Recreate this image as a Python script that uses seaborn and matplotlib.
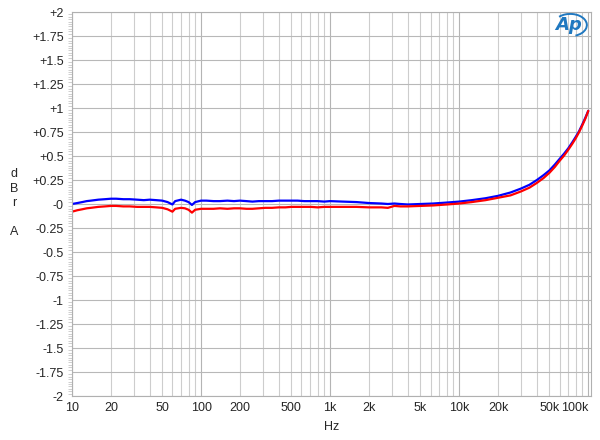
import numpy as np
import pandas as pd
import matplotlib
matplotlib.use("Agg")
import matplotlib.pyplot as plt
import seaborn as sns
from matplotlib.patches import Arc
from matplotlib.ticker import FixedLocator, NullFormatter, MultipleLocator

freq = [10, 11, 12, 13, 14, 16, 18, 20, 22, 25, 28, 32, 36, 40, 45, 50, 55, 60, 63, 70, 75, 80, 85, 90,
        100, 110, 125, 140, 160, 180, 200, 225, 250, 280, 315, 355, 400, 450, 500, 560, 630, 710, 800, 900,
        1000, 1250, 1600, 2000, 2500, 2800, 3150, 3500, 4000, 5000, 6300, 8000, 10000, 12500, 16000, 20000,
        25000, 30000, 35000, 40000, 45000, 50000, 55000, 60000, 65000, 70000, 75000, 80000, 85000, 90000,
        95000, 100000]

blue = [0.00, 0.01, 0.02, 0.03, 0.035, 0.045, 0.05, 0.055, 0.055, 0.05, 0.05, 0.045, 0.04, 0.045, 0.04,
        0.035, 0.02, -0.005, 0.03, 0.045, 0.035, 0.02, -0.01, 0.02,
        0.035, 0.035, 0.03, 0.03, 0.035, 0.03, 0.035, 0.03, 0.025, 0.03, 0.03, 0.03, 0.035, 0.035, 0.035,
        0.035, 0.03, 0.03, 0.03, 0.025,
        0.03, 0.025, 0.02, 0.01, 0.005, 0.0, 0.005, 0.0, -0.005, 0.0, 0.005, 0.015, 0.025, 0.04, 0.06, 0.085,
        0.12, 0.16, 0.20, 0.25, 0.30, 0.35, 0.41, 0.47, 0.525, 0.58, 0.64, 0.70, 0.76, 0.83,
        0.90, 0.97]

red = [-0.08, -0.065, -0.055, -0.045, -0.04, -0.03, -0.025, -0.02, -0.02, -0.025, -0.025, -0.03, -0.03,
       -0.03, -0.035, -0.04, -0.055, -0.08, -0.05, -0.04, -0.045, -0.06, -0.09, -0.06,
       -0.05, -0.05, -0.05, -0.045, -0.05, -0.045, -0.045, -0.05, -0.05, -0.045, -0.04, -0.04, -0.035,
       -0.035, -0.03, -0.03, -0.03, -0.03, -0.035, -0.03,
       -0.03, -0.03, -0.03, -0.035, -0.035, -0.04, -0.02, -0.025, -0.025, -0.02, -0.015, -0.005, 0.005,
       0.02, 0.04, 0.065,
       0.09, 0.13, 0.17, 0.22, 0.27, 0.325, 0.385, 0.45, 0.505, 0.565, 0.625, 0.685, 0.75, 0.82,
       0.89, 0.97]

x_ticks = [10, 20, 50, 100, 200, 500, 1000, 2000, 5000, 10000, 20000, 50000, 100000]
x_labels = ["10", "20", "50", "100", "200", "500", "1k", "2k", "5k", "10k", "20k", "50k", "100k"]
y_ticks = [2, 1.75, 1.5, 1.25, 1, 0.75, 0.5, 0.25, 0, -0.25, -0.5, -0.75, -1, -1.25, -1.5, -1.75, -2]
y_labels = ["+2", "+1.75", "+1.5", "+1.25", "+1", "+0.75", "+0.5", "+0.25", "-0", "-0.25", "-0.5",
            "-0.75", "-1", "-1.25", "-1.5", "-1.75", "-2"]
y_title = ["d", "B", "r", "A"]

sns.set_style("white")
plt.rcParams['font.family'] = ['Liberation Sans', 'DejaVu Sans']

fig = plt.figure(figsize=(6.0, 4.4), dpi=100)
ax = fig.add_axes([72/600, 1-396/440, (591-72)/600, (396-12)/440])

df = pd.DataFrame({"freq": freq + freq,
                   "val": red + blue,
                   "ch": ["R"] * len(freq) + ["B"] * len(freq)})
sns.lineplot(data=df, x="freq", y="val", hue="ch", palette={"R": "#ff0000", "B": "#0000ff"},
             hue_order=["B", "R"], sort=False, estimator=None, linewidth=1.6, legend=False, ax=ax)

ax.set_xscale("log")
ax.set_xlim(10, 105000)
ax.set_ylim(-2, 2)

# grid lines
minor = []
for dec in [10, 100, 1000, 10000]:
    for m in range(1, 10):
        minor.append(dec * m)
minor.append(100000)
for f in minor:
    c = "#b4b4b4" if f in (10, 100, 1000, 10000, 100000) else "#cdcdcd"
    ax.axvline(f, color=c, lw=0.8, zorder=0)
for y in y_ticks:
    ax.axhline(y, color="#b8b8b8", lw=0.8, zorder=0)

ax.xaxis.set_major_locator(FixedLocator(x_ticks))
ax.set_xticklabels(x_labels, fontsize=9)
ax.xaxis.set_minor_locator(FixedLocator([]))
ax.xaxis.set_minor_formatter(NullFormatter())
ax.yaxis.set_major_locator(FixedLocator(y_ticks))
ax.set_yticklabels(y_labels, fontsize=9)
ax.yaxis.set_minor_locator(MultipleLocator(0.025))
ax.tick_params(axis="x", which="major", length=0, pad=4)
ax.tick_params(axis="y", which="major", length=0, pad=6)
ax.tick_params(axis="y", which="minor", length=3, color="#c8c8c8", left=True, width=0.6)
for lbl in ax.get_xticklabels():
    if lbl.get_text() == "100k":
        lbl.set_horizontalalignment("right")

for s in ax.spines.values():
    s.set_color("#b0b0b0")
    s.set_linewidth(0.8)

ax.set_xlabel("Hz", fontsize=9, labelpad=5)
ax.set_ylabel("")
for ch, ypx in zip(y_title, [174, 189, 203, 232]):
    fig.text(14/600, 1-ypx/440, ch, fontsize=9, ha="center", va="center")

# Ap logo
ax.text(0.956, 0.966, "Ap", transform=ax.transAxes, fontsize=13, style="italic", weight="bold",
        color="#1f78c0", ha="center", va="center", family="DejaVu Sans")
ax.add_patch(Arc((0.960, 0.966), 0.064, 0.058, angle=0, theta1=-70, theta2=135,
                 transform=ax.transAxes, color="#1f78c0", lw=1.4, clip_on=False))

fig.savefig("out.png", dpi=100, facecolor="white")
